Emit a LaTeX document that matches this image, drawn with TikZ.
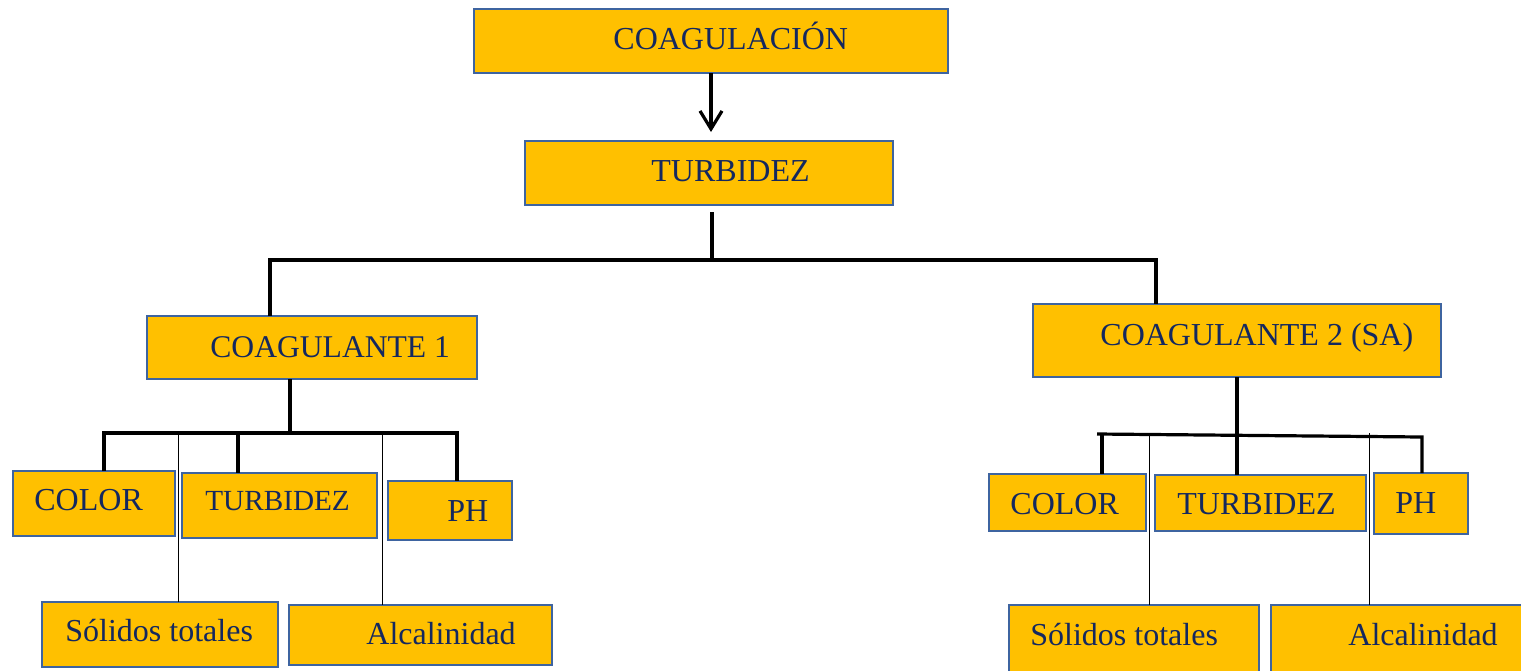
\documentclass[tikz,border=0pt]{standalone}
\usepackage{fontspec}
\setmainfont{Liberation Serif}
\usetikzlibrary{arrows.meta}
\definecolor{boxfill}{HTML}{FFC000}
\definecolor{boxline}{RGB}{62,100,160}
\definecolor{txtcol}{RGB}{20,40,95}
\newcommand\placebox[5]{\node[box, minimum width={(#4-#2)*0.5pt}, minimum height={(#5-#3)*0.5pt}] (#1) at ({(#2+#4)/2},{(#3+#5)/2}) {};}
\tikzset{
  box/.style={draw=boxline, fill=boxfill, line width=1pt, inner sep=0pt, outer sep=0pt, rectangle},
  lbl/.style={anchor=base west, inner sep=0pt, text=txtcol, font=\fontsize{16}{19}\selectfont},
  bar/.style={line width=1.6pt, line join=miter},
  fine/.style={line width=0.5pt},
}
\begin{document}
\begin{tikzpicture}[x=0.5pt,y=-0.5pt]
\useasboundingbox (0,0) rectangle (1521,670);
\clip (0,0) rectangle (1521,670);
% boxes
\placebox{coag}{474}{9}{948}{73}
\placebox{tur}{525}{141}{893}{205}
\placebox{ca}{147}{316}{477}{379}
\placebox{cb}{1033}{304}{1441}{377}
\placebox{colL}{13}{471}{175}{536}
\placebox{turL}{182}{473}{377}{538}
\placebox{phL}{388}{481}{512}{540}
\placebox{solL}{42}{602}{278}{667}
\placebox{alcL}{289}{605}{552}{665}
\placebox{colR}{989}{474}{1146}{531}
\placebox{turR}{1155}{475}{1366}{531}
\placebox{phR}{1374}{473}{1468}{534}
\placebox{solR}{1009}{605}{1259}{685}
\placebox{alcR}{1271}{605}{1540}{685}
% texts
\node[lbl] at (613,49) {COAGULACIÓN};
\node[lbl] at (651,181) {TURBIDEZ};
\node[lbl, font=\fontsize{15.8}{19}\selectfont] at (210,357) {COAGULANTE 1};
\node[lbl] at (1100,345) {COAGULANTE 2 (SA)};
\node[lbl] at (34,510) {COLOR};
\node[lbl, font=\fontsize{14.6}{18}\selectfont] at (205,510) {TURBIDEZ};
\node[lbl] at (447,521) {PH};
\node[lbl] at (65,641) {Sólidos totales};
\node[lbl] at (366,644) {Alcalinidad};
\node[lbl] at (1010,514) {COLOR};
\node[lbl] at (1177,514) {TURBIDEZ};
\node[lbl] at (1395,513) {PH};
\node[lbl] at (1030,645) {Sólidos totales};
\node[lbl] at (1348,645) {Alcalinidad};
% top arrow
\draw[bar, -{Straight Barb[length=9pt,width=11pt]}, shorten >=4.5pt] (coag.south) -- (coag.south |- tur.north);
% first split
\coordinate (j1) at (712,260);
\coordinate (bL) at (270,260);
\coordinate (bR) at (1156,260);
\draw[bar, shorten <=3.5pt] (tur.south -| j1) -- (j1);
\draw[bar] (bL |- ca.north) -- (bL) -- (bR) -- (bR |- cb.north);
% left subtree
\coordinate (k1) at (290,433);
\coordinate (kL) at (104,433);
\coordinate (kM) at (238,433);
\coordinate (kR) at (457,433);
\draw[bar] (ca.south -| k1) -- (k1);
\draw[bar] (kL |- colL.north) -- (kL) -- (kR) -- (kR |- phL.north);
\draw[bar] (kM) -- (kM |- turL.north);
\coordinate (s1) at (178,431);
\coordinate (s2) at (382,431);
\draw[fine] (s1) -- (s1 |- solL.north);
\draw[fine] (s2) -- (s2 |- alcL.north);
% right subtree
\coordinate (m1) at (1237,435);
\coordinate (rA) at (1097,434);
\coordinate (rC) at (1102,434);
\coordinate (rB) at (1422,437);
\draw[bar] (cb.south -| m1) -- (m1 |- turR.north);
\draw[bar] (rA) -- (rB) -- (rB |- phR.north);
\draw[bar] (rC) -- (rC |- colR.north);
\coordinate (s3) at (1149,434);
\coordinate (s4) at (1369,433);
\draw[fine] (s3) -- (s3 |- solR.north);
\draw[fine] (s4) -- (s4 |- alcR.north);
\end{tikzpicture}
\end{document}
